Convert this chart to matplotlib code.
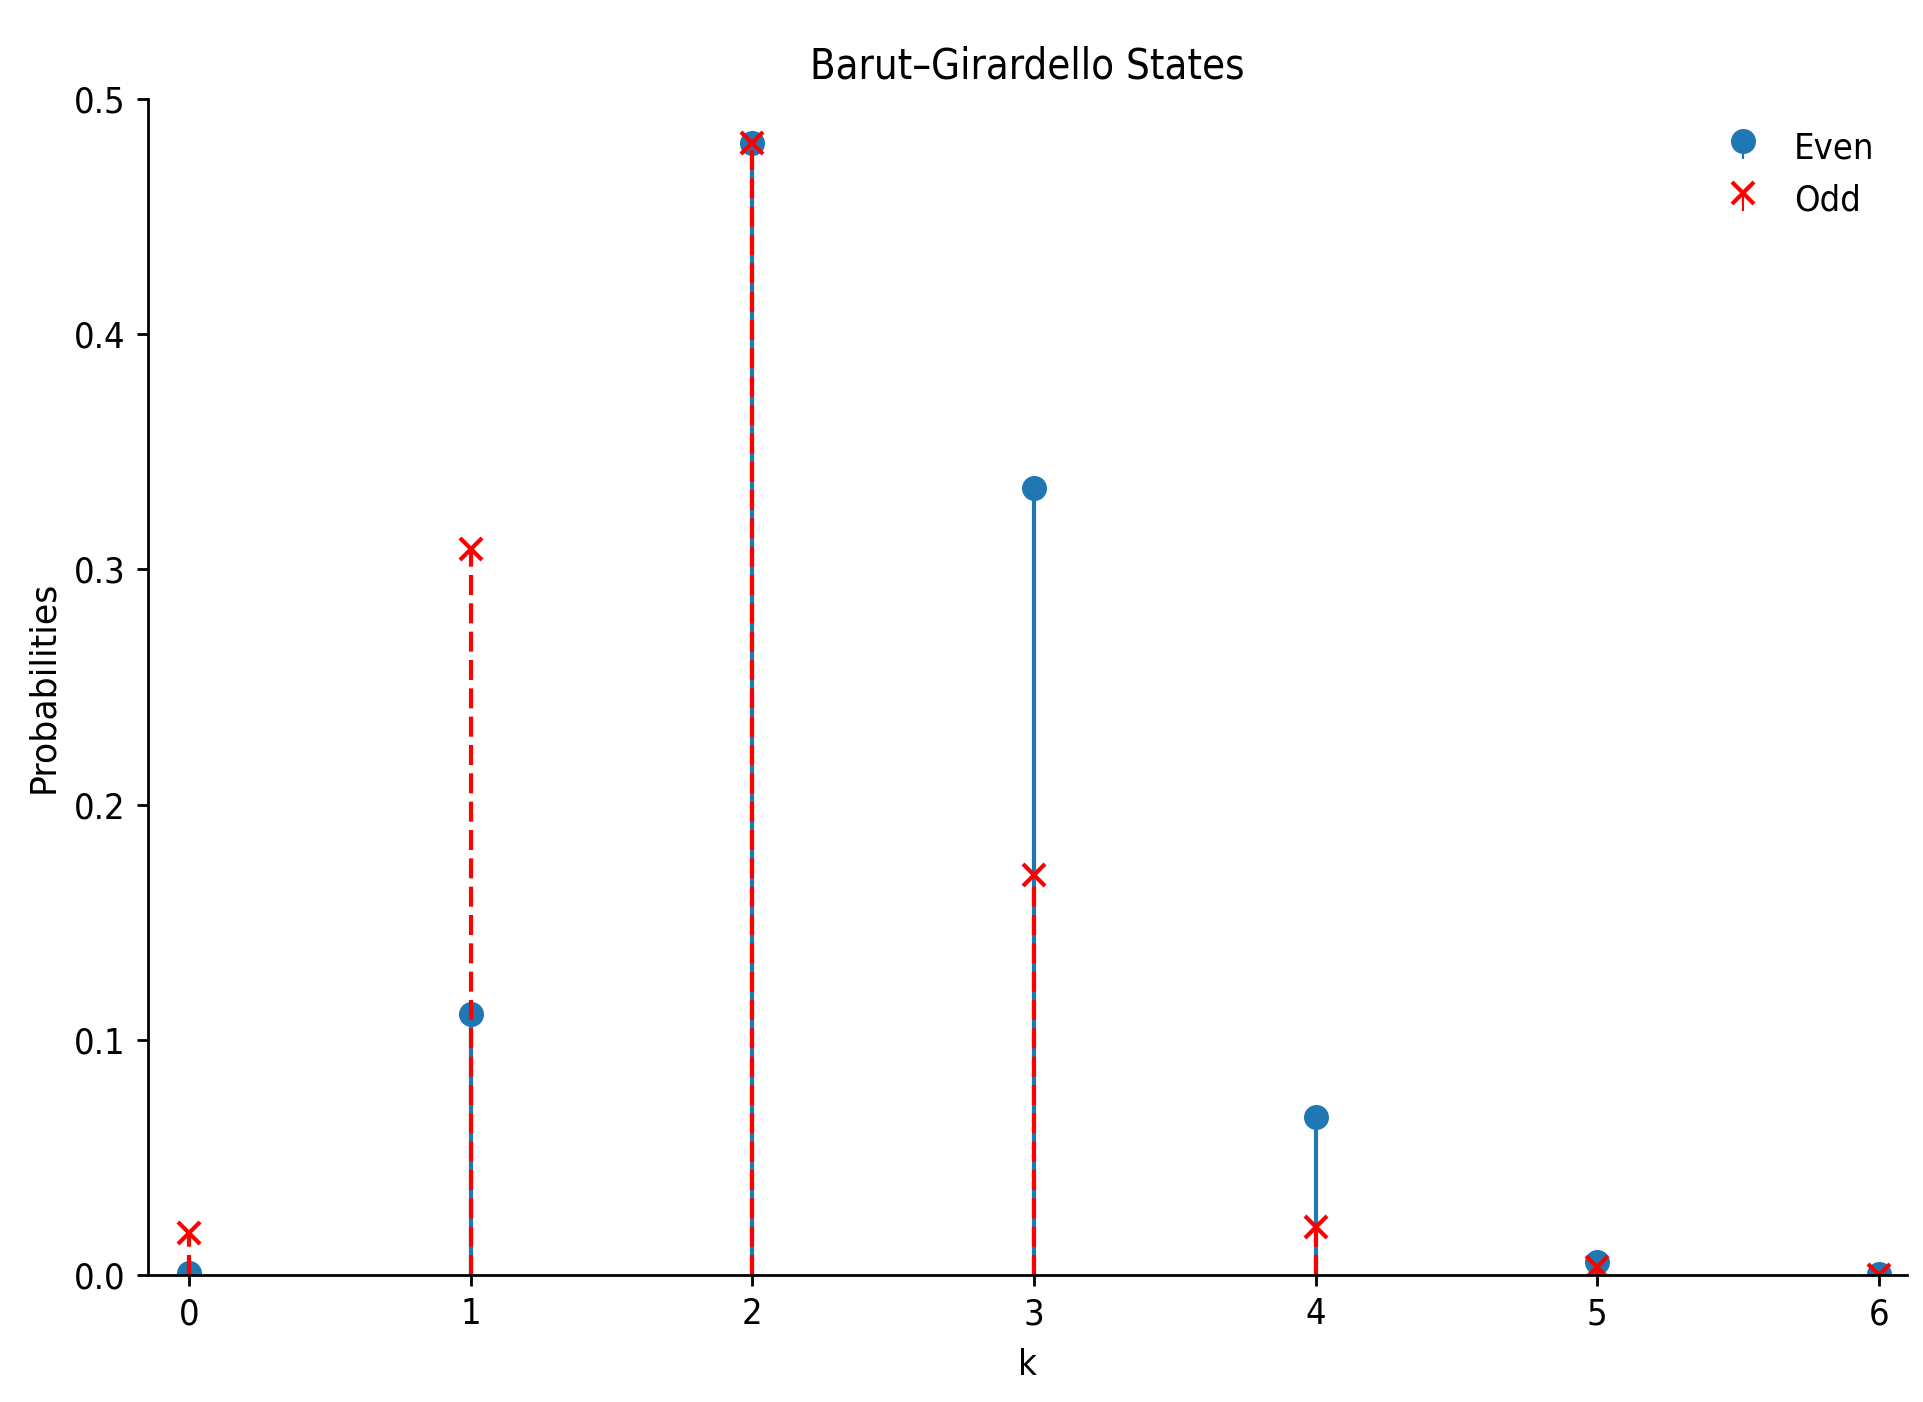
import numpy as np
import matplotlib
matplotlib.use("Agg")
import matplotlib.pyplot as plt

# ── Data ──────────────────────────────────────────────────────
k = [0, 1, 2, 3, 4, 5, 6]
p_even = [0.001, 0.111, 0.4815, 0.3345, 0.0673, 0.0057, 0.0003]
p_odd  = [0.0177, 0.3085, 0.4815, 0.170, 0.0203, 0.0035, 0.0002]

# ── Style ─────────────────────────────────────────────────────
plt.rcParams["font.family"] = ["DejaVu Sans"]
plt.rcParams["font.stretch"] = "condensed"
fs_tick = 26

fig = plt.figure(figsize=(19.24, 14.02), dpi=100)
ax = fig.add_axes([148 / 1924, 1 - 1275 / 1402,
                   (1907 - 148) / 1924, (1275 - 99) / 1402])

# ── Stems ─────────────────────────────────────────────────────
lw = 3.0
ml, sl, bl = ax.stem(k, p_even, linefmt="C0-", markerfmt="o", basefmt=" ",
                     label="Even")
ml.set_markersize(17)
ml.set_color("C0")
sl.set_linewidth(lw)

ml2, sl2, bl2 = ax.stem(k, p_odd, linefmt="r--", markerfmt="rx", basefmt=" ",
                        label="Odd")
ml2.set_markersize(16)
ml2.set_markeredgewidth(3.0)
sl2.set_linewidth(lw)
sl2.set_linestyle((0, (4.8, 2.0)))

# ── Axes ──────────────────────────────────────────────────────
ax.set_xlim(-0.145, 6.1)
ax.set_ylim(0, 0.5)
ax.set_xticks(k)
ax.set_yticks([0.0, 0.1, 0.2, 0.3, 0.4, 0.5])
ax.spines["top"].set_visible(False)
ax.spines["right"].set_visible(False)
for s in ("left", "bottom"):
    ax.spines[s].set_linewidth(2)
ax.tick_params(labelsize=fs_tick, length=8, width=2, pad=8)

ax.set_title("Barut\u2013Girardello States", fontsize=30, pad=15)
ax.set_xlabel("k", fontsize=fs_tick, labelpad=12)
ax.set_ylabel("Probabilities", fontsize=25, labelpad=10,
              stretch="normal")

ax.legend(loc="upper right", frameon=False, fontsize=fs_tick,
          handlelength=1.4, handletextpad=0.7)

fig.savefig("out.png", dpi=100)
